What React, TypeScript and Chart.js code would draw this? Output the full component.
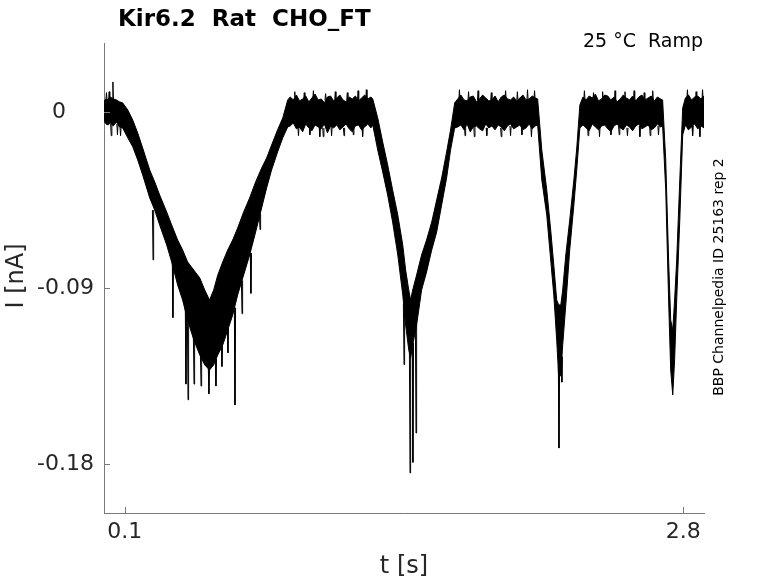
import React, { useEffect, useRef } from "react";
import Chart from "chart.js/auto";

// ---- data (time in s, current in nA) ----
const TIME = [
  0.000, 0.010, 0.020, 0.030, 0.045, 0.060, 0.075, 0.090,
  0.115, 0.139, 0.163, 0.187, 0.221, 0.245, 0.269, 0.303, 0.327, 0.356, 0.380, 0.404,
  0.434, 0.463, 0.487, 0.510, 0.530, 0.550, 0.574, 0.598, 0.622, 0.646, 0.675, 0.704,
  0.733, 0.762, 0.786, 0.810, 0.839, 0.864, 0.888,
  0.900, 0.915, 0.930, 0.945, 0.960, 0.975, 0.990, 1.005, 1.020, 1.035, 1.050, 1.065,
  1.080, 1.095, 1.110, 1.125, 1.140, 1.155, 1.170, 1.185, 1.200, 1.215, 1.230, 1.245,
  1.260, 1.275, 1.290,
  1.299, 1.323, 1.347, 1.371, 1.395, 1.420, 1.444, 1.458, 1.473, 1.482, 1.492, 1.511,
  1.535, 1.559, 1.584, 1.608, 1.632, 1.656, 1.675, 1.695,
  1.710, 1.725, 1.740, 1.755, 1.770, 1.785, 1.800, 1.815, 1.830, 1.845, 1.860, 1.875,
  1.890, 1.905, 1.920, 1.935, 1.950, 1.965, 1.980, 1.995, 2.010, 2.025, 2.040, 2.055,
  2.070, 2.085,
  2.096, 2.116, 2.140, 2.159, 2.174, 2.188, 2.198, 2.208, 2.217, 2.232, 2.251, 2.271,
  2.285, 2.300,
  2.315, 2.330, 2.345, 2.360, 2.375, 2.390, 2.405, 2.420, 2.435, 2.450, 2.465, 2.480,
  2.495, 2.510, 2.525, 2.540, 2.555, 2.570, 2.585, 2.600, 2.615, 2.630, 2.645, 2.660,
  2.675, 2.690,
  2.700, 2.715, 2.729, 2.739, 2.749, 2.758, 2.768, 2.783, 2.797,
  2.810, 2.825, 2.840, 2.855, 2.870, 2.885, 2.900,
];

const UPPER = [
  0.0058, 0.0068, 0.0063, 0.0078, 0.0068, 0.0063, 0.0053, 0.0048,
  0.0012, -0.0040, -0.0106, -0.0183, -0.0295, -0.0356, -0.0423, -0.0510, -0.0576, -0.0653, -0.0704, -0.0765,
  -0.0807, -0.0847, -0.0909, -0.0960, -0.0909, -0.0832, -0.0765, -0.0704, -0.0653, -0.0592, -0.0510, -0.0438,
  -0.0356, -0.0285, -0.0234, -0.0168, -0.0090, -0.0029, 0.0063,
  0.0078, 0.0063, 0.0088, 0.0058, 0.0068, 0.0083, 0.0053, 0.0073, 0.0093, 0.0063, 0.0068, 0.0048,
  0.0078, 0.0083, 0.0058, 0.0073, 0.0088, 0.0063, 0.0053, 0.0078, 0.0068, 0.0083, 0.0058, 0.0073,
  0.0088, 0.0068, 0.0078,
  0.0068, -0.0029, -0.0152, -0.0269, -0.0397, -0.0525, -0.0679, -0.0807, -0.0909, -0.0960, -0.0909, -0.0832,
  -0.0730, -0.0653, -0.0561, -0.0448, -0.0336, -0.0203, -0.0091, 0.0048,
  0.0068, 0.0088, 0.0063, 0.0058, 0.0078, 0.0083, 0.0053, 0.0068, 0.0088, 0.0073, 0.0058, 0.0063,
  0.0083, 0.0053, 0.0078, 0.0088, 0.0068, 0.0063, 0.0078, 0.0058, 0.0073, 0.0088, 0.0063, 0.0068,
  0.0083, 0.0073,
  0.0068, -0.0193, -0.0397, -0.0602, -0.0781, -0.0960, -0.0985, -0.0985, -0.0909, -0.0730, -0.0551, -0.0346,
  -0.0183, 0.0037,
  0.0078, 0.0063, 0.0083, 0.0073, 0.0093, 0.0058, 0.0068, 0.0088, 0.0083, 0.0063, 0.0078, 0.0053,
  0.0068, 0.0088, 0.0073, 0.0063, 0.0083, 0.0058, 0.0078, 0.0088, 0.0063, 0.0073, 0.0083, 0.0058,
  0.0078, 0.0068,
  0.0063, -0.0244, -0.0755, -0.1062, -0.1114, -0.0960, -0.0755, -0.0346, 0.0022,
  0.0073, 0.0088, 0.0063, 0.0078, 0.0083, 0.0068, 0.0083,
];

const LOWER = [
  -0.0045, -0.0060, -0.0065, -0.0055, -0.0070, -0.0050, -0.0075, -0.0080,
  -0.0131, -0.0177, -0.0244, -0.0321, -0.0438, -0.0500, -0.0576, -0.0679, -0.0765, -0.0883, -0.0960, -0.1062,
  -0.1164, -0.1241, -0.1292, -0.1318, -0.1292, -0.1241, -0.1190, -0.1114, -0.1037, -0.0934, -0.0832, -0.0730,
  -0.0612, -0.0489, -0.0387, -0.0295, -0.0203, -0.0131, -0.0075,
  -0.0070, -0.0055, -0.0085, -0.0075, -0.0100, -0.0060, -0.0080, -0.0095, -0.0065, -0.0075, -0.0085, -0.0060,
  -0.0105, -0.0070, -0.0080, -0.0065, -0.0090, -0.0075, -0.0060, -0.0085, -0.0100, -0.0070, -0.0065, -0.0090,
  -0.0075, -0.0060, -0.0080,
  -0.0065, -0.0193, -0.0305, -0.0423, -0.0561, -0.0730, -0.0934, -0.1088, -0.1215, -0.1256, -0.1190, -0.1088,
  -0.0909, -0.0817, -0.0704, -0.0612, -0.0474, -0.0336, -0.0193, -0.0080,
  -0.0075, -0.0065, -0.0090, -0.0060, -0.0100, -0.0075, -0.0070, -0.0085, -0.0095, -0.0060, -0.0080, -0.0070,
  -0.0090, -0.0065, -0.0075, -0.0095, -0.0070, -0.0060, -0.0085, -0.0075, -0.0065, -0.0090, -0.0080, -0.0060,
  -0.0085, -0.0070,
  -0.0065, -0.0346, -0.0525, -0.0755, -0.0934, -0.1164, -0.1359, -0.1343, -0.1190, -0.0985, -0.0704, -0.0474,
  -0.0295, -0.0080,
  -0.0065, -0.0080, -0.0095, -0.0060, -0.0075, -0.0090, -0.0070, -0.0065, -0.0085, -0.0100, -0.0070, -0.0060,
  -0.0080, -0.0090, -0.0065, -0.0075, -0.0095, -0.0070, -0.0060, -0.0085, -0.0075, -0.0065, -0.0090, -0.0080,
  -0.0060, -0.0075,
  -0.0070, -0.0397, -0.0960, -0.1318, -0.1446, -0.1266, -0.0960, -0.0551, -0.0116,
  -0.0065, -0.0090, -0.0075, -0.0060, -0.0085, -0.0070, -0.0080,
];

// isolated deep noise spikes: time, start level, tip level
const SPIKE_T = [
  0.043, 0.237, 0.333, 0.396, 0.406, 0.435, 0.469, 0.507, 0.541, 0.570, 0.599, 0.633, 0.667, 0.710, 0.754,
  1.060, 1.160, 1.450, 1.479, 1.493, 1.508, 1.850, 1.920, 2.199, 2.213, 2.410, 2.450, 2.530,
];
const SPIKE_BASE = [
  0.0050, -0.0500, -0.0750, -0.1000, -0.1050, -0.1150, -0.1240, -0.1300, -0.1260, -0.1180, -0.1100, -0.1000, -0.0860, -0.0720, -0.0520,
  -0.0080, -0.0080, -0.0980, -0.1200, -0.1180, -0.1080, -0.0080, -0.0080, -0.1300, -0.1250, 0.0060, -0.0080, -0.0080,
];
const SPIKE_PEAK = [
  0.0155, -0.0755, -0.1050, -0.1390, -0.1470, -0.1390, -0.1400, -0.1440, -0.1400, -0.1300, -0.1230, -0.1497, -0.1030, -0.0926, -0.0600,
  -0.0125, -0.0120, -0.1290, -0.1844, -0.1790, -0.1640, -0.0120, -0.0125, -0.1717, -0.1380, 0.0105, -0.0115, -0.0120,
];

// small noise hairs on the baseline edges: time, start level, tip level
const HAIR_T = [
  0.012, 0.025, 0.035, 0.065, 0.080,
  0.922, 0.968, 1.012, 1.071, 1.118, 1.176, 1.228, 1.268, 0.940, 0.995, 1.043, 1.100, 1.205, 1.250,
  1.718, 1.762, 1.808, 1.872, 1.941, 1.998, 2.047, 2.081, 1.745, 1.790, 1.965, 2.020, 2.066,
  2.322, 2.366, 2.470, 2.518, 2.562, 2.611, 2.652, 2.340, 2.395, 2.490, 2.590, 2.640, 2.680,
  2.820, 2.862, 2.893, 2.845, 2.880,
];
const HAIR_BASE = [
  0.0060, 0.0060, -0.0060, -0.0060, -0.0070,
  0.0060, 0.0060, 0.0060, 0.0060, 0.0060, 0.0060, 0.0060, 0.0060, -0.0070, -0.0070, -0.0070, -0.0070, -0.0070, -0.0070,
  0.0060, 0.0060, 0.0060, 0.0060, 0.0060, 0.0060, 0.0060, 0.0060, -0.0070, -0.0070, -0.0070, -0.0070, -0.0070,
  0.0060, 0.0060, 0.0060, 0.0060, 0.0060, 0.0060, 0.0060, -0.0070, -0.0070, -0.0070, -0.0070, -0.0070, -0.0070,
  0.0060, 0.0060, 0.0060, -0.0070, -0.0070,
];
const HAIR_TIP = [
  0.0100, 0.0105, -0.0120, -0.0115, -0.0120,
  0.0105, 0.0100, 0.0110, 0.0095, 0.0105, 0.0100, 0.0110, 0.0115, -0.0120, -0.0115, -0.0125, -0.0120, -0.0115, -0.0125,
  0.0115, 0.0105, 0.0110, 0.0100, 0.0110, 0.0105, 0.0115, 0.0110, -0.0120, -0.0125, -0.0120, -0.0115, -0.0125,
  0.0110, 0.0100, 0.0110, 0.0105, 0.0110, 0.0100, 0.0110, -0.0120, -0.0125, -0.0115, -0.0125, -0.0120, -0.0115,
  0.0115, 0.0105, 0.0115, -0.0120, -0.0125,
];

const X_TICKS = [0.1, 2.8];
const X_TICK_LABELS = ["0.1", "2.8"];
const Y_TICKS = [-0.18, -0.09, 0];
const Y_TICK_LABELS = ["-0.18", "-0.09", "0    "];

const TITLE = "Kir6.2  Rat  CHO_FT";
const CONDITION = "25 °C  Ramp";
const SIDE_NOTE = "BBP Channelpedia ID 25163 rep 2";
const X_LABEL = "t [s]";
const Y_LABEL = "I [nA]";

const FONT = "'DejaVu Sans', sans-serif";
const AXIS_COLOR = "#7a7a7a";
const TEXT_COLOR = "#262626";

function spikePath(ts: number[], base: number[], tip: number[]) {
  const pts: { x: number; y: number | null }[] = [];
  ts.forEach((t, i) => {
    pts.push({ x: t - 0.003, y: base[i] });
    pts.push({ x: t, y: tip[i] });
    pts.push({ x: t + 0.003, y: base[i] });
    pts.push({ x: t + 0.004, y: null });
  });
  return pts;
}

export default function App() {
  const ref = useRef<HTMLCanvasElement | null>(null);

  useEffect(() => {
    const canvas = ref.current;
    if (!canvas) return;

    const upper = TIME.map((t, i) => ({ x: t, y: UPPER[i] }));
    const lower = TIME.map((t, i) => ({ x: t, y: LOWER[i] }));
    const spikes = spikePath(SPIKE_T, SPIKE_BASE, SPIKE_PEAK);
    const hairs = spikePath(HAIR_T, HAIR_BASE, HAIR_TIP);

    const annotations = {
      id: "annotations",
      afterDraw(chart: any) {
        const ctx = chart.ctx as CanvasRenderingContext2D;
        const { left, bottom } = chart.chartArea;
        const xs = chart.scales.x;
        const ys = chart.scales.y;
        ctx.save();
        ctx.strokeStyle = AXIS_COLOR;
        ctx.lineWidth = 1;
        X_TICKS.forEach((v) => {
          const px = Math.round(xs.getPixelForValue(v)) + 0.5;
          ctx.beginPath();
          ctx.moveTo(px, bottom);
          ctx.lineTo(px, bottom - 6);
          ctx.stroke();
        });
        Y_TICKS.forEach((v) => {
          const py = Math.round(ys.getPixelForValue(v)) + 0.5;
          ctx.beginPath();
          ctx.moveTo(left, py);
          ctx.lineTo(left + 6, py);
          ctx.stroke();
        });

        ctx.fillStyle = "#000";
        ctx.textBaseline = "alphabetic";
        ctx.font = `bold 23px ${FONT}`;
        ctx.textAlign = "left";
        ctx.fillText(TITLE, 118, 26);

        ctx.font = `19px ${FONT}`;
        ctx.textAlign = "right";
        ctx.fillText(CONDITION, 703, 47);

        ctx.save();
        ctx.translate(723, 277);
        ctx.rotate(-Math.PI / 2);
        ctx.font = `14px ${FONT}`;
        ctx.textAlign = "center";
        ctx.fillText(SIDE_NOTE, 0, 0);
        ctx.restore();

        ctx.fillStyle = TEXT_COLOR;
        ctx.font = `24px ${FONT}`;
        ctx.textAlign = "center";
        ctx.textBaseline = "middle";
        ctx.fillText(X_LABEL, 404, 567);

        ctx.save();
        ctx.translate(17, 276);
        ctx.rotate(-Math.PI / 2);
        ctx.fillText(Y_LABEL, 0, 0);
        ctx.restore();

        ctx.restore();
      },
    };

    const lineStyle = {
      borderColor: "#000",
      borderWidth: 1,
      pointRadius: 0,
      tension: 0,
    };

    const chart = new Chart(canvas, {
      type: "line",
      data: {
        datasets: [
          { ...lineStyle, data: upper, backgroundColor: "#000", fill: "+1" },
          { ...lineStyle, data: lower, fill: false },
          { ...lineStyle, data: spikes as any, fill: false, spanGaps: false },
          { ...lineStyle, data: hairs as any, fill: false, spanGaps: false },
        ],
      },
      options: {
        animation: false,
        responsive: false,
        maintainAspectRatio: false,
        layout: { padding: { top: 43, right: 74, left: 0, bottom: 0 } },
        plugins: {
          legend: { display: false },
          tooltip: { enabled: false },
          title: { display: false },
        },
        scales: {
          x: {
            type: "linear",
            min: 0,
            max: 2.9,
            grid: { display: false, drawTicks: false },
            border: { display: true, color: AXIS_COLOR, width: 1 },
            afterBuildTicks: (scale: any) => {
              scale.ticks = X_TICKS.map((v) => ({ value: v }));
            },
            afterFit: (scale: any) => {
              scale.height = 70;
            },
            ticks: {
              padding: 6,
              color: TEXT_COLOR,
              font: { family: FONT, size: 22 },
              maxRotation: 0,
              autoSkip: false,
              callback: (v: any) => {
                const i = X_TICKS.findIndex((t) => Math.abs(t - Number(v)) < 1e-9);
                return i >= 0 ? X_TICK_LABELS[i] : "";
              },
            },
          },
          y: {
            type: "linear",
            min: -0.2049,
            max: 0.0354,
            grid: { display: false, drawTicks: false },
            border: { display: true, color: AXIS_COLOR, width: 1 },
            afterBuildTicks: (scale: any) => {
              scale.ticks = Y_TICKS.map((v) => ({ value: v }));
            },
            afterFit: (scale: any) => {
              scale.width = 104;
            },
            ticks: {
              padding: 10,
              color: TEXT_COLOR,
              font: { family: FONT, size: 22 },
              autoSkip: false,
              callback: (v: any) => {
                const i = Y_TICKS.findIndex((t) => Math.abs(t - Number(v)) < 1e-9);
                return i >= 0 ? Y_TICK_LABELS[i] : "";
              },
            },
          },
        },
      },
      plugins: [annotations],
    });

    return () => chart.destroy();
  }, []);

  return (
    <div style={{ position: "fixed", left: 0, top: 0, width: 778, height: 583, background: "#fff" }}>
      <canvas ref={ref} width={778} height={583} style={{ width: 778, height: 583, display: "block" }} />
    </div>
  );
}
